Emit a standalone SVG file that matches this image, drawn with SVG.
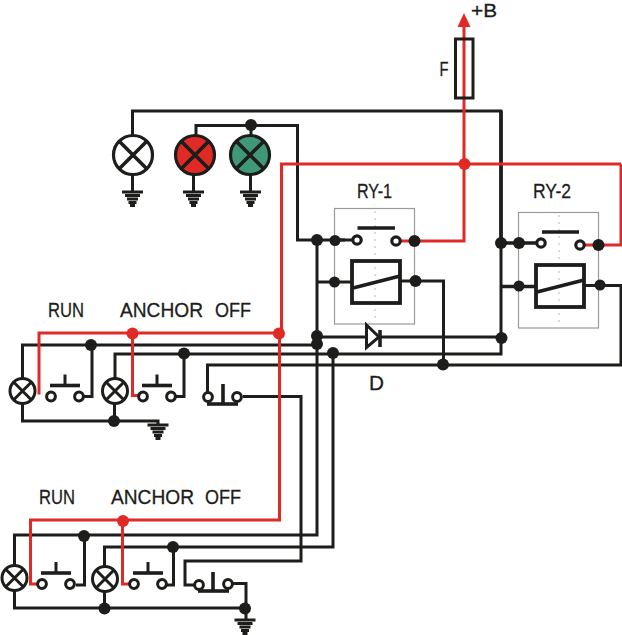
<svg xmlns="http://www.w3.org/2000/svg" width="622" height="635" viewBox="0 0 622 635">
<style>
.w{fill:none;stroke:#1d1d1b;stroke-width:3}
.h{fill:none;stroke:#1d1d1b;stroke-width:3.6}
.r{fill:none;stroke:#e02a26;stroke-width:3}
.d{fill:#1d1d1b}
.rd{fill:#e02a26}
.box{fill:none;stroke:#999;stroke-width:1.2}
.cl{fill:none;stroke:#c4c4c4;stroke-width:1.2;stroke-dasharray:2 5}
.c{fill:#fff;stroke:#1d1d1b;stroke-width:3}
.ch{fill:#fff;stroke:#1d1d1b;stroke-width:3.2}
.t{font-family:"Liberation Sans",Arial,sans-serif;font-size:21px;fill:#1d1d1b;stroke:#1d1d1b;stroke-width:.3}
</style>
<defs>
<g id="gnd"><path d="M-10.500 0H10.500M-7.500 3.500H7.500M-5.500 7H5.500M-4 10.500H4M-2.500 13.500H2.500" fill="none" stroke="#1d1d1b" stroke-width="2.800"/></g>
<g id="lampS"><circle r="12.500" class="c"/><path d="M-9 -9L9 9M-9 9L9 -9" class="w"/></g>
<g id="lampL"><path d="M-13.500 -13.500L13.500 13.500M-13.500 13.500L13.500 -13.500" class="h"/></g>
<g id="push"><path d="M-15 -11H15" class="h"/><path d="M0 -22V-11" class="w"/><circle cx="-14" r="4.400" class="c"/><circle cx="14" r="4.400" class="c"/></g>
</defs>
<g id="connectors">
<path class="w" d="M132.500 135V111H501V354H115V378"/>
<path class="w" d="M196 135V125.500H297.500V240H345"/>
<path class="w" d="M251 125V135"/>
<path class="w" d="M132.500 175V192M193.500 175V192M250.500 175V192"/>
<path class="w" d="M317 240V535H14.500V565"/>
<path class="w" d="M317 282H352M400 281H443.500V365M317 337H366M380 337H501"/>
<path class="h" d="M501 111V243M501 243H541M501 286.500H536"/>
<path class="w" d="M584 285.500H621V365H207.500V397H212"/>
<path class="w" d="M22.500 378V345H317"/>
<path class="w" d="M84 396.500H92V345M175 396.500H184V354"/>
<path class="w" d="M22.500 404V421H158V425M114.500 404V421"/>
<path class="w" d="M243 396.500H301V561H185V585H195"/>
<path class="w" d="M333 354V547H104.500V566"/>
<path class="w" d="M76 585H84.500V536M167 585H173.500V547"/>
<path class="w" d="M14.500 591V608H245M104.500 592V608"/>
<path class="w" d="M232 583.500H246V620"/>
<path class="r" d="M621 164H281.500V333H279.500V520H30.500V584H38"/>
<path class="r" d="M39 394.500V333H279.500"/>
<path class="r" d="M132.500 333V395.500H139"/>
<path class="r" d="M122.500 520V584H130"/>
<path class="r" d="M464 24V241H400M621 164V245H584"/>
<polygon class="rd" points="464,13 470.500,27 457.500,27"/>
</g>
<g id="fuse"><rect x="455.500" y="39" width="17.500" height="59" class="w"/></g>
<g id="lamp-white"><circle cx="133" cy="155" r="19.500" fill="#fff" stroke="#1d1d1b" stroke-width="3.200"/><use href="#lampL" x="133" y="155"/><use href="#gnd" x="132.500" y="192"/></g>
<g id="lamp-red"><circle cx="195" cy="155" r="19.500" fill="#e02a26" stroke="#1d1d1b" stroke-width="3.200"/><use href="#lampL" x="195" y="155"/><use href="#gnd" x="193.500" y="192"/></g>
<g id="lamp-green"><circle cx="250" cy="155" r="19.500" fill="#3f9877" stroke="#1d1d1b" stroke-width="3.200"/><use href="#lampL" x="250" y="155"/><use href="#gnd" x="250.500" y="192"/></g>
<g id="ry-1">
<rect x="334.500" y="208.500" width="80" height="115.500" class="box"/>
<path class="cl" d="M375 211V322"/>
<path class="h" d="M357.500 228H395"/>
<path class="w" d="M335 240H355"/>
<circle cx="357" cy="240" r="4.200" class="ch"/><circle cx="396" cy="241" r="4.200" class="ch"/>
<rect x="352" y="261" width="48" height="42" fill="none" stroke="#1d1d1b" stroke-width="3.800"/>
<path d="M353 288L400 276" class="h"/>
</g>
<g id="ry-2">
<rect x="518.500" y="212.500" width="80" height="115.500" class="box"/>
<path class="cl" d="M559 215V326"/>
<path class="h" d="M542 232H579"/>
<circle cx="541" cy="243" r="4.200" class="ch"/><circle cx="580" cy="245" r="4.200" class="ch"/>
<rect x="536" y="265" width="48" height="42" fill="none" stroke="#1d1d1b" stroke-width="3.800"/>
<path d="M537 292L584 280" class="h"/>
</g>
<g id="diode"><path d="M366.500 325V347.500L379 337Z" fill="#fff" stroke="#1d1d1b" stroke-width="3"/><path d="M380 330V347" class="h"/></g>
<g id="switches">
<use href="#lampS" x="22.500" y="391"/><use href="#lampS" x="115" y="391"/>
<use href="#push" x="65" y="396.500"/><use href="#push" x="157" y="396.500"/>
<circle cx="208" cy="397" r="4.400" class="c"/><circle cx="237" cy="397" r="4.400" class="c"/>
<path class="h" d="M207 404H238"/><path class="h" d="M223 384V404"/>
<use href="#gnd" x="158" y="425"/>
<use href="#lampS" x="14.500" y="578"/><use href="#lampS" x="105" y="579"/>
<use href="#push" x="56" y="584"/><use href="#push" x="148" y="584"/>
<circle cx="199" cy="585" r="4.400" class="c"/><circle cx="228" cy="584" r="4.400" class="c"/>
<path class="h" d="M198 591H229"/><path class="h" d="M213 572V591"/>
<use href="#gnd" x="245" y="620"/>
</g>
<g id="junctions">
<g class="d">
<circle cx="251" cy="125" r="6"/>
<circle cx="317" cy="240" r="6"/><circle cx="335" cy="240.500" r="5.500"/><circle cx="414.500" cy="241" r="6"/>
<circle cx="334.500" cy="282" r="5.500"/><circle cx="415.500" cy="281" r="6"/>
<circle cx="501" cy="243" r="6"/><circle cx="519" cy="243" r="6"/><circle cx="598.500" cy="245" r="6"/>
<circle cx="519" cy="286" r="5.500"/><circle cx="600" cy="285" r="5.500"/>
<circle cx="317" cy="336" r="6"/><circle cx="317" cy="344" r="6"/><circle cx="333" cy="353" r="6"/>
<circle cx="501.500" cy="338" r="6"/><circle cx="443" cy="364.500" r="6"/>
<circle cx="91" cy="345" r="6"/><circle cx="184" cy="353.500" r="6"/><circle cx="114" cy="421" r="6"/>
<circle cx="84" cy="536" r="6"/><circle cx="173" cy="547" r="6"/><circle cx="104.500" cy="608.500" r="6"/><circle cx="245" cy="608.500" r="6"/>
</g>
<g class="rd">
<circle cx="464.500" cy="164" r="6"/><circle cx="279" cy="333.500" r="6"/><circle cx="132.500" cy="333.500" r="6"/><circle cx="123" cy="521" r="6"/>
</g>
</g>
<g id="labels" class="t">
<text x="471" y="17" font-size="18" style="font-size:18px" textLength="26" lengthAdjust="spacingAndGlyphs">+B</text>
<text x="439.500" y="76" textLength="9" lengthAdjust="spacingAndGlyphs">F</text>
<text x="357" y="198" textLength="35" lengthAdjust="spacingAndGlyphs">RY-1</text>
<text x="533" y="198" textLength="38" lengthAdjust="spacingAndGlyphs">RY-2</text>
<text x="48" y="317" textLength="36" lengthAdjust="spacingAndGlyphs">RUN</text>
<text x="120" y="317" textLength="83" lengthAdjust="spacingAndGlyphs">ANCHOR</text>
<text x="215" y="317" textLength="36" lengthAdjust="spacingAndGlyphs">OFF</text>
<text x="369" y="390" textLength="15" lengthAdjust="spacingAndGlyphs">D</text>
<text x="39" y="504" textLength="36" lengthAdjust="spacingAndGlyphs">RUN</text>
<text x="111" y="504" textLength="83" lengthAdjust="spacingAndGlyphs">ANCHOR</text>
<text x="205" y="504" textLength="36" lengthAdjust="spacingAndGlyphs">OFF</text>
</g>
</svg>
